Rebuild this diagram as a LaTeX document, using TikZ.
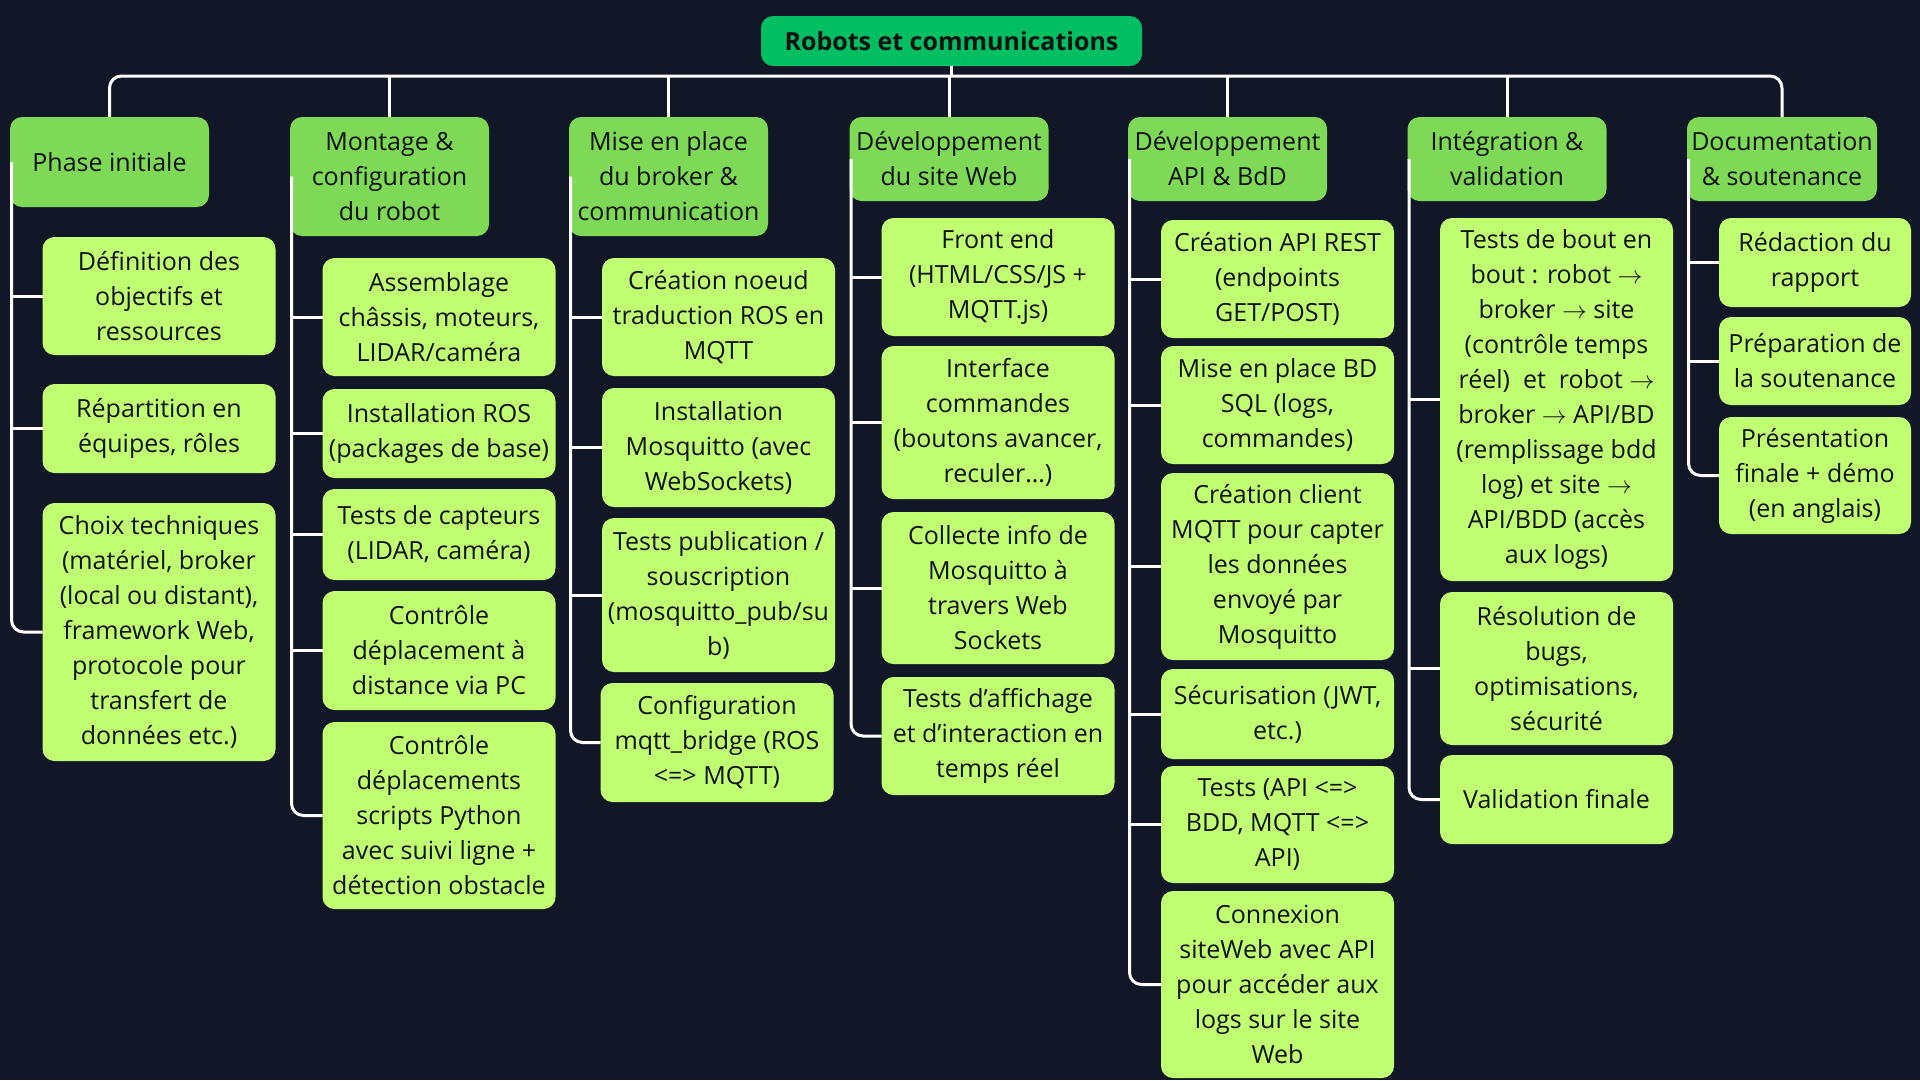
\documentclass[tikz,border=0pt]{standalone}
\usepackage{fontspec}
\setmainfont{Open Sans}
\newcommand\myarrow{\ensuremath{\rightarrow}}
\definecolor{bgc}{HTML}{111726}
\definecolor{rootc}{HTML}{00BF63}
\definecolor{catc}{HTML}{7ED957}
\definecolor{itemc}{HTML}{C1FF72}
\definecolor{textc}{HTML}{111111}
\begin{document}
\begin{tikzpicture}[x=1pt,y=-1pt,
  every node/.style={inner sep=0pt, outer sep=0pt},
  box/.style={rounded corners=12pt, align=center, text=textc, font=\fontsize{25}{35}\selectfont},
  rootbox/.style={box, fill=rootc, font=\bfseries\fontsize{25}{30}\selectfont},
  catbox/.style={box, fill=catc, minimum width=199},
  itembox/.style={box, fill=itemc, minimum width=233},
  conn/.style={draw=white, line width=3pt, rounded corners=12pt}]
\fill[bgc] (0,0) rectangle (1920,1080);
\path[use as bounding box] (0,0) rectangle (1920,1080);

% root
\node[rootbox, minimum width=381, minimum height=50] (root) at (951.5,41) {Robots et communications};

% categories
\node[catbox, minimum height=90] (cat1) at (109.5,162) {Phase initiale};
\node[catbox, minimum height=119] (cat2) at (389.5,176.5) {Montage \&\\configuration\\du robot};
\node[catbox, minimum height=119] (cat3) at (668.5,176.5) {Mise en place\\du broker \&\\communication};
\node[catbox, minimum height=84] (cat4) at (949,159) {Développement\\du site Web};
\node[catbox, minimum height=84] (cat5) at (1227.5,159) {Développement\\API \& BdD};
\node[catbox, minimum height=84] (cat6) at (1507,159) {Intégration \&\\validation};
\node[catbox, minimum height=84, minimum width=190] (cat7) at (1782,159) {Documentation\\\& soutenance};

% column 1
\node[itembox, minimum height=118] (c1a) at (159,296) {Définition des\\objectifs et\\ressources};
\node[itembox, minimum height=89] (c1b) at (159,428.5) {Répartition en\\équipes, rôles};
\node[itembox, minimum height=258] (c1c) at (159,632) {Choix techniques\\(matériel, broker\\(local ou distant),\\framework Web,\\protocole pour\\transfert de\\données etc.)};

% column 2
\node[itembox, minimum height=118] (c2a) at (439,317) {Assemblage\\châssis, moteurs,\\LIDAR/caméra};
\node[itembox, minimum height=89] (c2b) at (439,433.5) {Installation ROS\\(packages de base)};
\node[itembox, minimum height=91] (c2c) at (439,534.5) {Tests de capteurs\\(LIDAR, caméra)};
\node[itembox, minimum height=119] (c2d) at (439,650.5) {Contrôle\\déplacement à\\distance via PC};
\node[itembox, minimum height=187] (c2e) at (439,815.5) {Contrôle\\déplacements\\scripts Python\\avec suivi ligne +\\détection obstacle};

% column 3
\node[itembox, minimum height=118] (c3a) at (718.5,317) {Création noeud\\traduction ROS en\\MQTT};
\node[itembox, minimum height=119] (c3b) at (718.5,447.5) {Installation\\Mosquitto (avec\\WebSockets)};
\node[itembox, minimum height=154] (c3c) at (718.5,595) {Tests publication /\\souscription\\(mosquitto\_pub/su\\b)};
\node[itembox, minimum height=119] (c3d) at (717,742.5) {Configuration\\mqtt\_bridge (ROS\\<=> MQTT)};

% column 4
\node[itembox, minimum height=118] (c4a) at (998,277) {Front end\\(HTML/CSS/JS +\\MQTT.js)};
\node[itembox, minimum height=153] (c4b) at (998,422.5) {Interface\\commandes\\(boutons avancer,\\reculer…)};
\node[itembox, minimum height=152] (c4c) at (998,588) {Collecte info de\\Mosquitto à\\travers Web\\Sockets};
\node[itembox, minimum height=118] (c4d) at (998,736) {Tests d’affichage\\et d’interaction en\\temps réel};

% column 5
\node[itembox, minimum height=118] (c5a) at (1277.5,279) {Création API REST\\(endpoints\\GET/POST)};
\node[itembox, minimum height=118] (c5b) at (1277.5,405) {Mise en place BD\\SQL (logs,\\commandes)};
\node[itembox, minimum height=187] (c5c) at (1277.5,566.5) {Création client\\MQTT pour capter\\les données\\envoyé par\\Mosquitto};
\node[itembox, minimum height=90] (c5d) at (1277.5,714) {Sécurisation (JWT,\\etc.)};
\node[itembox, minimum height=117] (c5e) at (1277.5,824.5) {Tests (API <=>\\BDD, MQTT <=>\\API)};
\node[itembox, minimum height=187] (c5f) at (1277.5,984.5) {Connexion\\siteWeb avec API\\pour accéder aux\\logs sur le site\\Web};

% column 6
\node[itembox, minimum height=363] (c6a) at (1556.5,399.5) {Tests de bout en\\bout : robot \myarrow\\broker \myarrow\ site\\(contrôle temps\\réel)\ \ et\ \ robot \myarrow\\broker \myarrow\ API/BD\\(remplissage bdd\\log) et site \myarrow\\API/BDD (accès\\aux logs)};
\node[itembox, minimum height=153] (c6b) at (1556.5,668.5) {Résolution de\\bugs,\\optimisations,\\sécurité};
\node[itembox, minimum height=89] (c6c) at (1556.5,799.5) {Validation finale};

% column 7
\node[itembox, minimum width=192, minimum height=89] (c7a) at (1815,262.5) {Rédaction du\\rapport};
\node[itembox, minimum width=192, minimum height=88] (c7b) at (1815,361) {Préparation de\\la soutenance};
\node[itembox, minimum width=192, minimum height=117] (c7c) at (1815,475.5) {Présentation\\finale + démo\\(en anglais)};

% top connectors
\coordinate (bar) at (0,76);
\draw[conn] (cat1.north) -- (cat1.north |- bar) -- (cat7.north |- bar) -- (cat7.north);
\foreach \i in {2,3,4,5,6} {\draw[conn] (cat\i.north) -- (cat\i.north |- bar);}
\draw[conn] (root.south) -- (root.south |- bar);

% column connectors
\foreach \c/\last/\others in {1/c1c/{c1a,c1b}, 2/c2e/{c2a,c2b,c2c,c2d}, 3/c3d/{c3a,c3b,c3c}, 4/c4d/{c4a,c4b,c4c}, 5/c5f/{c5a,c5b,c5c,c5d,c5e}, 6/c6c/{c6a,c6b}, 7/c7c/{c7a,c7b}} {
  \coordinate (l\c) at ([xshift=1.5pt]cat\c.west);
  \draw[conn] (l\c) |- (\last.west);
  \foreach \o in \others {\draw[conn] (l\c |- \o.west) -- (\o.west);}
}
\end{tikzpicture}
\end{document}
